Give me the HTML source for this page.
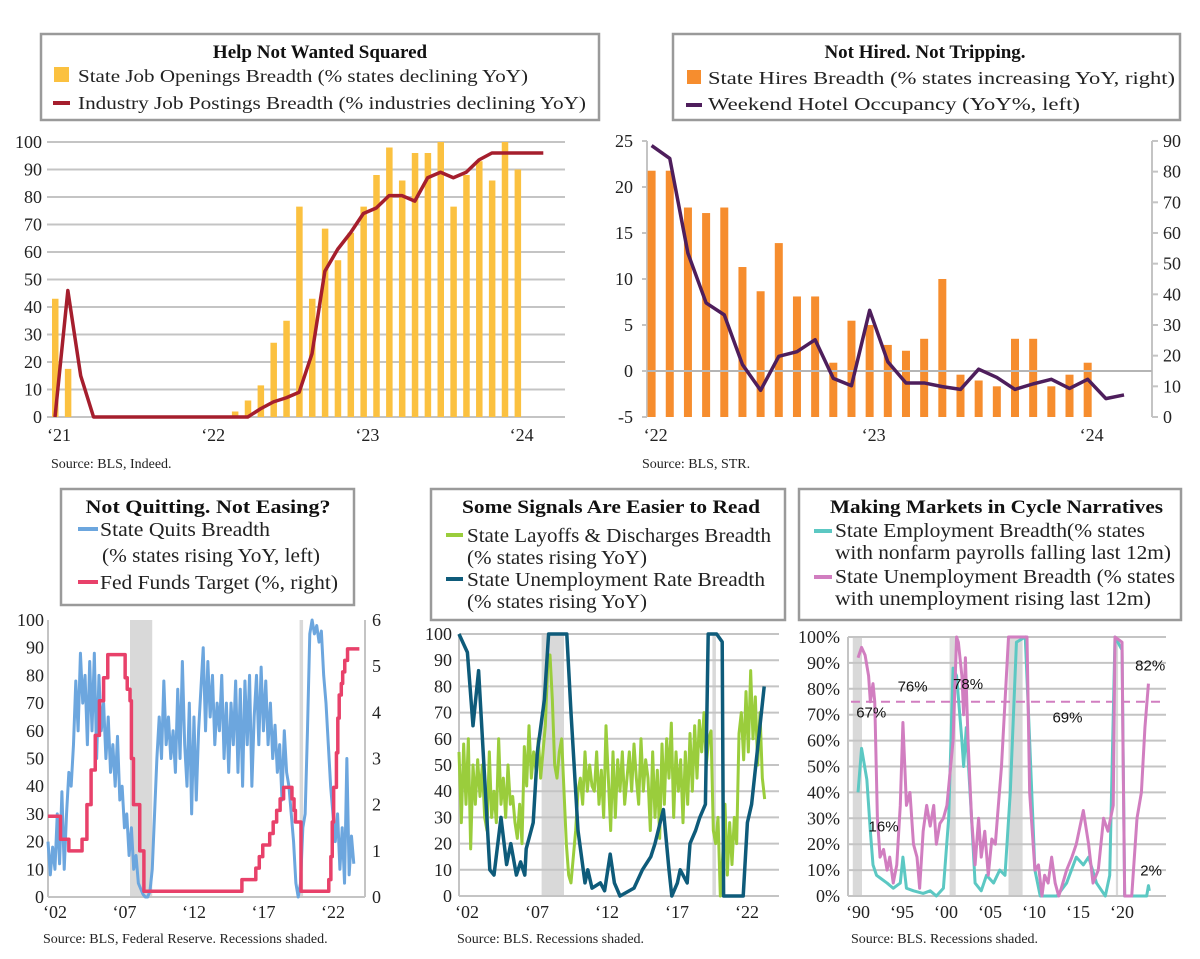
<!DOCTYPE html>
<html><head><meta charset="utf-8"><title>Labor market breadth</title>
<style>
html,body{margin:0;padding:0;background:#fff;}
svg{display:block;font-family:"Liberation Serif",serif;}
.ax{font-size:18px;fill:#222;}
.src{font-size:14px;fill:#222;}
.ttl{font-size:19px;font-weight:bold;fill:#111;}
.lg{font-size:18px;fill:#222;}
.lg2{font-size:20px;fill:#222;}
.ann{font-family:"Liberation Sans",sans-serif;font-size:15px;fill:#111;}
</style></head>
<body>
<svg id="chart" width="1200" height="959" viewBox="0 0 1200 959" xmlns="http://www.w3.org/2000/svg">
<rect x="0" y="0" width="1200" height="959" fill="#fff"/>
<g>
<rect x="41" y="34" width="558" height="86" fill="#fff" stroke="#9a9a9a" stroke-width="2.5"/>
<text class="ttl" x="320" y="58" text-anchor="middle">Help Not Wanted Squared</text>
<rect x="54" y="67" width="15" height="15" fill="#FBC140"/>
<text class="lg" x="78" y="82" textLength="450" lengthAdjust="spacingAndGlyphs">State Job Openings Breadth (% states declining YoY)</text>
<rect x="53" y="101" width="17" height="4" fill="#A51E2D"/>
<text class="lg" x="78" y="109" textLength="508" lengthAdjust="spacingAndGlyphs">Industry Job Postings Breadth (% industries declining YoY)</text>
</g>
<g>
<rect x="673" y="34" width="507" height="86" fill="#fff" stroke="#9a9a9a" stroke-width="2.5"/>
<text class="ttl" x="925" y="58" text-anchor="middle">Not Hired. Not Tripping.</text>
<rect x="687" y="70" width="14" height="14" fill="#F68D2E"/>
<text class="lg" x="708" y="84" textLength="467" lengthAdjust="spacingAndGlyphs">State Hires Breadth (% states increasing YoY, right)</text>
<rect x="686" y="103" width="16" height="4" fill="#4E1E5C"/>
<text class="lg" x="708" y="110" textLength="372" lengthAdjust="spacingAndGlyphs">Weekend Hotel Occupancy (YoY%, left)</text>
</g>
<g>
<rect x="61" y="489" width="293" height="116" fill="#fff" stroke="#9a9a9a" stroke-width="2.5"/>
<text class="ttl" x="208" y="513" text-anchor="middle" textLength="245" lengthAdjust="spacingAndGlyphs">Not Quitting. Not Easing?</text>
<rect x="78" y="527" width="20" height="4" fill="#6CA6DE"/>
<text class="lg2" x="100" y="536" textLength="170" lengthAdjust="spacingAndGlyphs">State Quits Breadth</text>
<text class="lg2" x="102" y="562" textLength="218" lengthAdjust="spacingAndGlyphs">(% states rising YoY, left)</text>
<rect x="78" y="580" width="20" height="4" fill="#E8416A"/>
<text class="lg2" x="100" y="589" textLength="238" lengthAdjust="spacingAndGlyphs">Fed Funds Target (%, right)</text>
</g>
<g>
<rect x="431" y="489" width="354" height="131" fill="#fff" stroke="#9a9a9a" stroke-width="2.5"/>
<text class="ttl" x="462" y="513" textLength="298" lengthAdjust="spacingAndGlyphs">Some Signals Are Easier to Read</text>
<rect x="446" y="533" width="17" height="4" fill="#9ACD3C"/>
<text class="lg2" x="467" y="542" textLength="304" lengthAdjust="spacingAndGlyphs">State Layoffs &amp; Discharges Breadth</text>
<text class="lg2" x="467" y="564" textLength="180" lengthAdjust="spacingAndGlyphs">(% states rising YoY)</text>
<rect x="446" y="577" width="17" height="4" fill="#0E5B7A"/>
<text class="lg2" x="467" y="586" textLength="298" lengthAdjust="spacingAndGlyphs">State Unemployment Rate Breadth</text>
<text class="lg2" x="467" y="608" textLength="180" lengthAdjust="spacingAndGlyphs">(% states rising YoY)</text>
</g>
<g>
<rect x="799" y="489" width="382" height="131" fill="#fff" stroke="#9a9a9a" stroke-width="2.5"/>
<text class="ttl" x="830" y="513" textLength="333" lengthAdjust="spacingAndGlyphs">Making Markets in Cycle Narratives</text>
<rect x="814" y="529" width="18" height="4" fill="#5CC8C3"/>
<text class="lg2" x="835" y="537" textLength="310" lengthAdjust="spacingAndGlyphs">State Employment Breadth(% states</text>
<text class="lg2" x="835" y="559" textLength="336" lengthAdjust="spacingAndGlyphs">with nonfarm payrolls falling last 12m)</text>
<rect x="814" y="575" width="18" height="4" fill="#D17EC0"/>
<text class="lg2" x="835" y="583" textLength="340" lengthAdjust="spacingAndGlyphs">State Unemployment Breadth (% states</text>
<text class="lg2" x="835" y="605" textLength="316" lengthAdjust="spacingAndGlyphs">with unemployment rising last 12m)</text>
</g>
<text class="src" x="51" y="468">Source: BLS, Indeed.</text>
<text class="src" x="642" y="468">Source: BLS, STR.</text>
<text class="src" x="43" y="943">Source: BLS, Federal Reserve. Recessions shaded.</text>
<text class="src" x="457" y="943">Source: BLS. Recessions shaded.</text>
<text class="src" x="851" y="943">Source: BLS. Recessions shaded.</text>
<g id="marks"></g>
</svg>
<script>
// ---------- Panel 1 data (monthly index from Jan 2021) ----------
const p1Ticks = [0,10,20,30,40,50,60,70,80,90,100];
const p1XLabels = ["\u201821","\u201822","\u201823","\u201824"];
const p1BarMonths = [0,1,14,15,16,17,18,19,20,21,22,23,24,25,26,27,28,29,30,31,32,33,34,35,36];
const p1BarValues = [43,17.5,2,6,11.5,27,35,76.5,43,68.5,57,67,76.5,88,98,86,96,96,100,76.5,88,93,86,100,90];
const p1LineMonths = [0,1,2,3,4,8,12,15,16,17,18,19,20,21,22,23,24,25,26,27,28,29,30,31,32,33,34,35,36,37,38];
const p1LineValues = [0,46,15,0,0,0,0,0,3,5.5,7,9,23,53,61,67,74,76,80.5,80.5,78.5,87,89,87,89,93.5,96,96,96,96,96];
// ---------- Panel 2 data (monthly index from Jan 2022) ----------
const p2LeftTicks = [-5,0,5,10,15,20,25];
const p2RightTicks = [0,10,20,30,40,50,60,70,80,90];
const p2XLabels = ["\u201822","\u201823","\u201824"];
const p2HiresValues = [80.3,80.3,68.3,66.5,68.3,48.9,41,56.7,39.3,39.3,17.7,31.4,30,23.5,21.6,25.5,45,13.8,11.9,10,25.5,25.5,10,13.8,17.7];
const p2HotelValues = [24.5,23.1,12.8,7.4,6.1,0.7,-2.1,1.6,2.1,3.4,-0.8,-1.6,6.6,1.0,-1.3,-1.3,-1.7,-2.0,0.2,-0.7,-2.0,-1.4,-0.9,-1.9,-0.9,-3.0,-2.6];
// ---------- Panel 3 data ----------
const p3LeftTicks = [0,10,20,30,40,50,60,70,80,90,100];
const p3RightTicks = [0,1,2,3,4,5,6];
const p3XLabels = ["\u201802","\u201807","\u201812","\u201817","\u201822"];
const p3XLabelYears = [2002,2007,2012,2017,2022];
const p3Recessions = [[2007.9,2009.5],[2020.1,2020.35]];
const p3QuitsStart = 2002;
const p3QuitsPerYear = 6;
const p3QuitsValues = [
20,8,18,10,30,12, 38,10,30,45,40,55, 78,60,88,70,80,55, 85,60,88,50,80,60,
70,50,65,45,55,40, 58,35,40,25,30,15, 25,10,15,5,3,1, 0,0,2,10,30,50,
65,50,78,55,65,50, 60,45,75,50,85,55, 40,70,30,65,35,60, 75,90,60,85,65,80,
55,70,60,80,50,70, 45,70,55,78,45,75, 40,78,55,80,40,65, 80,55,83,60,78,55,
70,50,62,45,55,35, 60,45,40,30,20,5, 0,5,25,30,60,95, 100,95,98,92,96,80,
70,55,40,30,20,30, 10,25,5,50,8,22, 12];
const p3FedYears = [2002.0,2002.9,2003.5,2004.45,2004.8,2005.1,2005.4,2005.7,2006.0,2006.3,2007.55,2007.7,2007.9,2008.0,2008.15,2008.6,2008.9,2015.95,2016.95,2017.2,2017.45,2017.95,2018.2,2018.45,2018.7,2018.95,2019.55,2019.7,2019.8,2020.2,2022.2,2022.35,2022.45,2022.55,2022.75,2022.85,2022.95,2023.1,2023.2,2023.35,2023.55,2024.4];
const p3FedValues = [1.75,1.25,1.0,1.25,2.0,2.75,3.5,4.25,4.75,5.25,4.75,4.5,4.25,3.0,2.0,1.0,0.125,0.375,0.625,0.875,1.125,1.375,1.625,1.875,2.125,2.375,2.125,1.875,1.625,0.125,0.375,0.875,1.625,2.375,3.125,3.875,4.375,4.625,4.875,5.125,5.375,5.375];
// ---------- Panel 4 data ----------
const p4Ticks = [0,10,20,30,40,50,60,70,80,90,100];
const p4XLabels = ["\u201802","\u201807","\u201812","\u201817","\u201822"];
const p4XLabelYears = [2002,2007,2012,2017,2022];
const p4Recessions = [[2007.9,2009.5],[2020.1,2020.35]];
const p4LayoffStart = 2002;
const p4LayoffPerYear = 6;
const p4LayoffValues = [
55,28,58,35,60,18, 50,35,52,38,50,30, 25,55,30,40,28,60, 35,45,30,50,35,38,
28,22,35,20,57,42, 65,45,55,48,60,45, 55,65,88,92,75,50, 45,55,60,40,20,8,
5,15,25,40,45,35, 55,40,50,42,40,55, 35,48,30,65,45,25, 55,30,52,40,55,35,
45,55,40,58,45,35, 60,40,52,45,25,55, 30,48,22,58,35,60, 45,66,30,55,40,52,
28,55,35,62,40,65, 45,67,55,70,50,60, 63,25,20,30,0,15, 35,8,28,12,30,20,
62,70,52,78,55,86, 60,76,50,70,45,37];
const p4UnempYears = [2002.0,2002.6,2003.0,2003.4,2004.2,2004.5,2005.0,2005.4,2005.7,2006.1,2006.4,2006.7,2006.8,2007.3,2007.6,2008.1,2008.4,2009.7,2010.0,2010.5,2011.0,2011.2,2011.5,2012.1,2012.4,2012.8,2013.1,2013.5,2014.5,2015.1,2015.7,2016.0,2016.6,2017.0,2017.2,2017.6,2017.8,2018.3,2018.5,2018.9,2019.2,2019.6,2019.8,2020.4,2020.8,2020.9,2022.3,2022.6,2022.9,2023.3,2023.5,2023.8];
const p4UnempValues = [100,93,65,86,10,8,30,12,20,8,13,8,18,28,55,75,100,100,70,25,5,10,3,5,2,16,5,0,3,10,15,20,33,10,0,5,10,5,20,25,30,35,100,100,97,0,0,28,35,55,65,80];
// ---------- Panel 5 data ----------
const p5Ticks = [0,10,20,30,40,50,60,70,80,90,100];
const p5XLabels = ["\u201890","\u201895","\u201800","\u201805","\u201810","\u201815","\u201820"];
const p5XLabelYears = [1990,1995,2000,2005,2010,2015,2020];
const p5Recessions = [[1990.2,1991.25],[2001.2,2001.9],[2007.9,2009.5],[2020.1,2020.35]];
const p5Threshold = 75;
const p5EmpYears = [1990.8,1991.2,1991.8,1992.2,1992.5,1992.9,1993.3,1994.1,1994.8,1995.6,1995.9,1996.3,1997.1,1998.2,1999.0,1999.7,2000.5,2001.1,2001.6,2002.0,2002.6,2002.8,2003.1,2003.7,2004.1,2004.8,2005.4,2006.2,2006.9,2007.5,2008.1,2008.8,2009.8,2010.3,2010.9,2011.5,2013.4,2014.5,2015.6,2016.4,2017.0,2017.9,2018.9,2019.4,2020.0,2020.8,2021.1,2023.6,2023.8,2023.9];
const p5EmpValues = [40,57,45,25,12,8,7,5,3,5,15,3,2,1,2,0,3,30,88,85,60,50,65,30,5,2,8,5,10,8,40,98,100,60,10,0,0,5,15,12,15,5,0,8,100,95,0,0,4,2];
const p5UnYears = [1990.8,1991.2,1991.6,1992.0,1992.2,1992.5,1992.7,1993.0,1993.3,1993.7,1994.1,1994.4,1994.8,1995.2,1995.6,1995.9,1996.3,1996.7,1997.1,1997.5,1997.8,1998.2,1998.6,1999.0,1999.4,1999.7,2000.1,2000.5,2000.9,2001.6,2002.0,2002.2,2002.6,2002.8,2003.0,2003.3,2003.7,2004.1,2004.5,2004.8,2005.2,2005.6,2006.0,2006.4,2006.7,2007.1,2007.5,2007.9,2008.4,2010.0,2010.3,2010.9,2011.3,2011.7,2012.0,2012.4,2012.8,2013.2,2013.6,2013.9,2014.5,2015.1,2015.6,2016.4,2017.0,2017.5,2018.1,2018.7,2019.2,2019.8,2020.0,2020.8,2020.9,2021.1,2021.9,2022.5,2023.0,2023.4,2023.8];
const p5UnValues = [92,96,93,85,75,82,75,30,15,18,10,15,5,12,35,67,35,40,20,15,3,25,35,27,35,20,28,30,35,60,100,98,85,70,92,60,30,12,30,15,25,8,22,20,33,50,75,100,100,100,40,10,12,0,8,5,15,5,0,3,10,15,20,33,20,5,10,30,25,35,100,98,60,0,0,30,40,65,82];
const p5AnnLabels = ["67%","76%","78%","69%","16%","82%","2%"];
const p5AnnYears = [1992.3,1997.0,2003.3,2014.6,1993.7,2024.0,2024.1];
const p5AnnValues = [69,79,80,67,25,87,8];

const NS = "http://www.w3.org/2000/svg";
const root = document.getElementById("marks");
function el(tag, attrs, parent){
  const e = document.createElementNS(NS, tag);
  for (const k in attrs) e.setAttribute(k, attrs[k]);
  (parent||root).appendChild(e);
  return e;
}
function txt(str, attrs, parent){ const t = el("text", attrs, parent); t.textContent = str; return t; }
const GRID = "#c4c4c4";

// ===== Panel 1 =====
const x1 = m => 55 + m*12.85;
const y1 = v => 417 - v*2.75;
const g1 = el("g", {});


p1Ticks.forEach(t => {
  const l = el("line", {x1:47, x2:565, y1:y1(t), y2:y1(t), stroke:GRID, "stroke-width":2}, g1);
  
  
  const lab = txt(String(t), {x:42, y:y1(t)+6, "text-anchor":"end", class:"ax"}, g1);
  
  
});
p1XLabels.forEach((s,i) => {
  const lab = txt(s, {x:x1(i*12)+4, y:441, "text-anchor":"middle", class:"ax", "font-size":"19"}, g1);
  
  
});
p1BarMonths.forEach((m,i) => {
  const b = el("rect", {x:x1(m)-3, y:y1(p1BarValues[i]), width:6.5, height:y1(0)-y1(p1BarValues[i]), fill:"#FBC140"}, g1);
  
  
});
const p1l = el("polyline", {points:p1LineMonths.map((m,i)=>x1(m)+","+y1(p1LineValues[i])).join(" "), fill:"none", stroke:"#A51E2D", "stroke-width":3.5, "stroke-linejoin":"round"}, g1);



// ===== Panel 2 =====
const x2 = m => 651.6 + m*18.17;
const yL = v => 141 + (25-v)*9.2;
const yR = v => 417 - v*3.067;
const g2 = el("g", {});


const ax2l = el("line", {x1:647, x2:647, y1:141, y2:417, stroke:GRID, "stroke-width":2}, g2);


const ax2r = el("line", {x1:1152, x2:1152, y1:141, y2:417, stroke:GRID, "stroke-width":2}, g2);


p2LeftTicks.forEach(t => {
  const tk = el("line", {x1:642, x2:647, y1:yL(t), y2:yL(t), stroke:GRID, "stroke-width":2}, g2);
  
  
  const lab = txt(String(t), {x:633, y:yL(t)+6, "text-anchor":"end", class:"ax", "font-size":"19"}, g2);
  
  
});
p2RightTicks.forEach(t => {
  const tk = el("line", {x1:1152, x2:1158, y1:yR(t), y2:yR(t), stroke:GRID, "stroke-width":2}, g2);
  
  
  const lab = txt(String(t), {x:1163, y:yR(t)+6, class:"ax", "font-size":"19"}, g2);
  
  
});
p2HiresValues.forEach((v,i) => {
  const b = el("rect", {x:x2(i)-4, y:yR(v), width:8, height:yR(0)-yR(v), fill:"#F68D2E"}, g2);
  
  
});
const zl = el("line", {x1:647, x2:1152, y1:yL(0), y2:yL(0), stroke:"#b5b5b5", "stroke-width":2}, g2);


const p2l = el("polyline", {points:p2HotelValues.map((v,i)=>x2(i)+","+yL(v)).join(" "), fill:"none", stroke:"#4E1E5C", "stroke-width":3.5, "stroke-linejoin":"round"}, g2);


p2XLabels.forEach((s,i) => {
  const lab = txt(s, {x:x2(i*12)+4, y:441, "text-anchor":"middle", class:"ax", "font-size":"19"}, g2);
  
  
});

// ===== Panel 3 =====
const x3 = yr => 48 + (yr-2002)*13.9;
const y3 = v => 897 - v*2.77;
const yF = v => 897 - v*46.17;
const g3 = el("g", {});


p3Recessions.forEach(r => {
  const s = el("rect", {x:x3(r[0]), y:620, width:x3(r[1])-x3(r[0]), height:277, fill:"#d9d9d9"}, g3);
  
  
});
[[48,620,48,897],[365,620,365,897],[48,897,365,897]].forEach(a => {
  const l = el("line", {x1:a[0], y1:a[1], x2:a[2], y2:a[3], stroke:GRID, "stroke-width":2}, g3);
  
  
});
p3LeftTicks.forEach(t => {
  const lab = txt(String(t), {x:44, y:y3(t)+6, "text-anchor":"end", class:"ax"}, g3);
  
  
});
p3RightTicks.forEach(t => {
  const lab = txt(String(t), {x:372, y:yF(t)+6, class:"ax"}, g3);
  
  
});
p3XLabels.forEach((s,i) => {
  const lab = txt(s, {x:x3(p3XLabelYears[i])+7, y:918, "text-anchor":"middle", class:"ax"}, g3);
  
  
});
const q = el("polyline", {points:p3QuitsValues.map((v,i)=>x3(p3QuitsStart+i/p3QuitsPerYear)+","+y3(v)).join(" "), fill:"none", stroke:"#6CA6DE", "stroke-width":3, "stroke-linejoin":"round"}, g3);


let fp = [];
p3FedYears.forEach((yr,i) => { if (i>0) fp.push(x3(yr)+","+yF(p3FedValues[i-1])); fp.push(x3(yr)+","+yF(p3FedValues[i])); });
const ff = el("polyline", {points:fp.join(" "), fill:"none", stroke:"#E8416A", "stroke-width":3.5, "stroke-linejoin":"round"}, g3);



// ===== Panel 4 =====
const x4 = yr => 459 + (yr-2002)*14;
const y4 = v => 896 - v*2.62;
const g4 = el("g", {});


p4Recessions.forEach(r => {
  const s = el("rect", {x:x4(r[0]), y:634, width:x4(r[1])-x4(r[0]), height:262, fill:"#d9d9d9"}, g4);
  
  
});
p4Ticks.forEach(t => {
  const l = el("line", {x1:459, x2:779, y1:y4(t), y2:y4(t), stroke:GRID, "stroke-width":2}, g4);
  
  
  const lab = txt(String(t), {x:452, y:y4(t)+6, "text-anchor":"end", class:"ax"}, g4);
  
  
});
const ax4 = el("line", {x1:459, x2:459, y1:634, y2:896, stroke:GRID, "stroke-width":2}, g4);


p4XLabels.forEach((s,i) => {
  const lab = txt(s, {x:x4(p4XLabelYears[i])+8, y:918, "text-anchor":"middle", class:"ax"}, g4);
  
  
});
const lo = el("polyline", {points:p4LayoffValues.map((v,i)=>x4(p4LayoffStart+i/p4LayoffPerYear)+","+y4(v)).join(" "), fill:"none", stroke:"#9ACD3C", "stroke-width":3, "stroke-linejoin":"round"}, g4);


const ur = el("polyline", {points:p4UnempYears.map((yr,i)=>x4(yr)+","+y4(p4UnempValues[i])).join(" "), fill:"none", stroke:"#0E5B7A", "stroke-width":3.5, "stroke-linejoin":"round"}, g4);



// ===== Panel 5 =====
const x5 = yr => 851 + (yr-1990)*8.8;
const y5 = v => 896 - v*2.59;
const g5 = el("g", {});


p5Recessions.forEach(r => {
  const s = el("rect", {x:x5(r[0]), y:637, width:x5(r[1])-x5(r[0]), height:259, fill:"#d9d9d9"}, g5);
  
  
});
p5Ticks.forEach(t => {
  const l = el("line", {x1:848, x2:1166, y1:y5(t), y2:y5(t), stroke:GRID, "stroke-width":2}, g5);
  
  
  const lab = txt(t+"%", {x:840, y:y5(t)+6, "text-anchor":"end", class:"ax"}, g5);
  
  
});
const ax5 = el("line", {x1:848, x2:848, y1:637, y2:896, stroke:GRID, "stroke-width":2}, g5);


p5XLabels.forEach((s,i) => {
  const lab = txt(s, {x:x5(p5XLabelYears[i])+7, y:918, "text-anchor":"middle", class:"ax"}, g5);
  
  
});
const th = el("line", {x1:851, x2:1163, y1:y5(p5Threshold), y2:y5(p5Threshold), stroke:"#D17EC0", "stroke-width":2, "stroke-dasharray":"9,6"}, g5);


const em = el("polyline", {points:p5EmpYears.map((yr,i)=>x5(yr)+","+y5(p5EmpValues[i])).join(" "), fill:"none", stroke:"#5CC8C3", "stroke-width":3, "stroke-linejoin":"round"}, g5);


const un = el("polyline", {points:p5UnYears.map((yr,i)=>x5(yr)+","+y5(p5UnValues[i])).join(" "), fill:"none", stroke:"#D17EC0", "stroke-width":3, "stroke-linejoin":"round"}, g5);


p5AnnLabels.forEach((s,i) => {
  const a = txt(s, {x:x5(p5AnnYears[i]), y:y5(p5AnnValues[i]), "text-anchor":"middle", class:"ann"}, g5);
  
  
});
</script>
</body></html>
